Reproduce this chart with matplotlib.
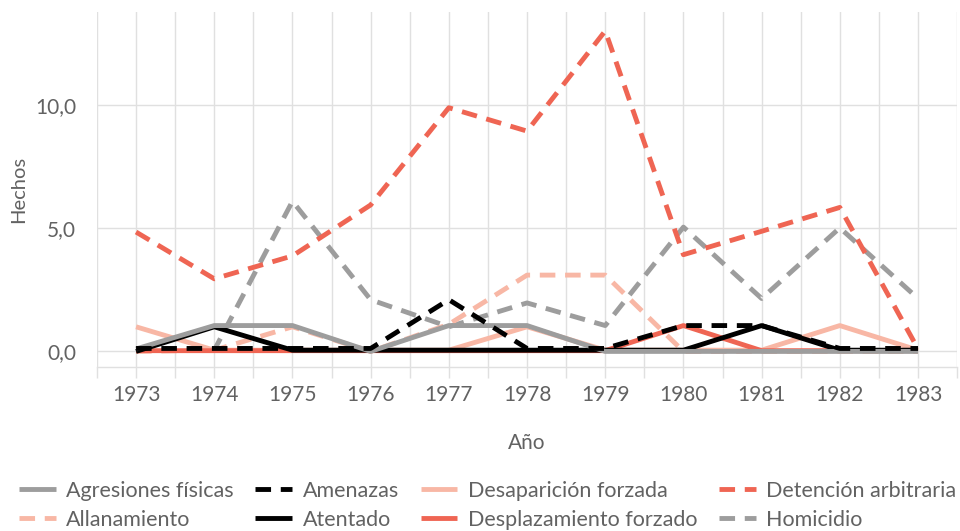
import numpy as np
import matplotlib
matplotlib.use("Agg")
import matplotlib.pyplot as plt
from matplotlib.ticker import MultipleLocator, FuncFormatter

plt.rcParams['font.family'] = ['Lato', 'DejaVu Sans']

# Data
years = [1973, 1974, 1975, 1976, 1977, 1978, 1979, 1980, 1981, 1982, 1983]

agresiones = [0.1, 1.05, 1.05, 0.0, 1.05, 1.05, 0.0, 0.0, 0.0, 0.0, 0.0]
allanamiento = [0.0, 0.05, 1.0, 0.0, 1.1, 3.1, 3.1, 0.0, 0.0, 0.0, 0.0]
amenazas = [0.12, 0.12, 0.12, 0.12, 2.1, 0.12, 0.12, 1.05, 1.05, 0.12, 0.12]
atentado = [0.0, 1.0, 0.05, 0.05, 0.05, 0.05, 0.05, 0.05, 1.05, 0.05, 0.05]
desaparicion = [1.0, 0.05, 0.05, 0.05, 0.05, 1.0, 0.05, 0.05, 0.05, 1.05, 0.05]
desplazamiento = [0.03, 0.03, 0.03, 0.03, 0.03, 0.03, 0.03, 1.05, 0.03, 0.03, 0.03]
detencion = [4.85, 2.95, 3.88, 5.95, 9.9, 8.95, 13.02, 3.93, 4.88, 5.85, 0.1]
homicidio = [0.05, 0.05, 6.1, 2.1, 1.0, 1.97, 1.05, 5.05, 2.15, 5.02, 2.15]

gray = '#9d9d9d'
black = '#000000'
salmon = '#f8b7a5'
red = '#ef6553'
text_color = '#626262'
grid_color = '#e0e0e0'

series = [
    ('Agresiones físicas', agresiones, gray, '-', 7),
    ('Allanamiento', allanamiento, salmon, '--', 3),
    ('Amenazas', amenazas, black, '--', 8),
    ('Atentado', atentado, black, '-', 6),
    ('Desaparición forzada', desaparicion, salmon, '-', 4),
    ('Desplazamiento forzado', desplazamiento, red, '-', 5),
    ('Detención arbitraria', detencion, red, '--', 2),
    ('Homicidio', homicidio, gray, '--', 1),
]

fig = plt.figure(figsize=(9.6, 5.31), dpi=100)
ax = fig.add_axes([0.101, 0.309, 0.896, 0.668])

handles = []
for name, vals, col, ls, z in series:
    line, = ax.plot(years, vals, color=col, lw=3.5, linestyle=ls, label=name,
                    zorder=z, solid_capstyle='butt', dash_capstyle='butt')
    if ls == '--':
        line.set_dashes((3.2, 2.0))
    handles.append(line)

ax.set_xlim(1972.5, 1983.5)
ax.set_ylim(-0.63, 13.78)

ax.xaxis.set_major_locator(MultipleLocator(1))
ax.xaxis.set_minor_locator(MultipleLocator(0.5))
ax.yaxis.set_major_locator(MultipleLocator(5))
ax.yaxis.set_major_formatter(FuncFormatter(lambda v, p: f'{v:.1f}'.replace('.', ',')))
ax.xaxis.set_major_formatter(FuncFormatter(lambda v, p: f'{int(round(v))}'))

ax.grid(True, which='major', color=grid_color, lw=1.0, zorder=0)
ax.grid(True, which='minor', axis='x', color=grid_color, lw=1.0, zorder=0)
ax.set_axisbelow(True)

for s in ['top', 'right', 'left']:
    ax.spines[s].set_visible(False)
ax.spines['bottom'].set_color(grid_color)
ax.spines['bottom'].set_linewidth(1.0)

ax.tick_params(axis='x', which='both', length=8, width=1.0, color=grid_color,
               labelsize=15, labelcolor=text_color, pad=5)
ax.tick_params(axis='y', which='both', length=0, labelsize=15,
               labelcolor=text_color, pad=15)

ax.set_xlabel('Año', fontsize=15, color=text_color, labelpad=20)
ax.set_ylabel('Hechos', fontsize=14.5, color=text_color, labelpad=6)

fig.legend(handles=handles, loc='lower center', bbox_to_anchor=(0.508, -0.022),
           ncol=4, frameon=False, fontsize=15.5, labelcolor=text_color,
           handlelength=1.7, handletextpad=0.5, columnspacing=1.0,
           labelspacing=0.42, borderaxespad=0.2)

fig.savefig('out.png', dpi=100)
